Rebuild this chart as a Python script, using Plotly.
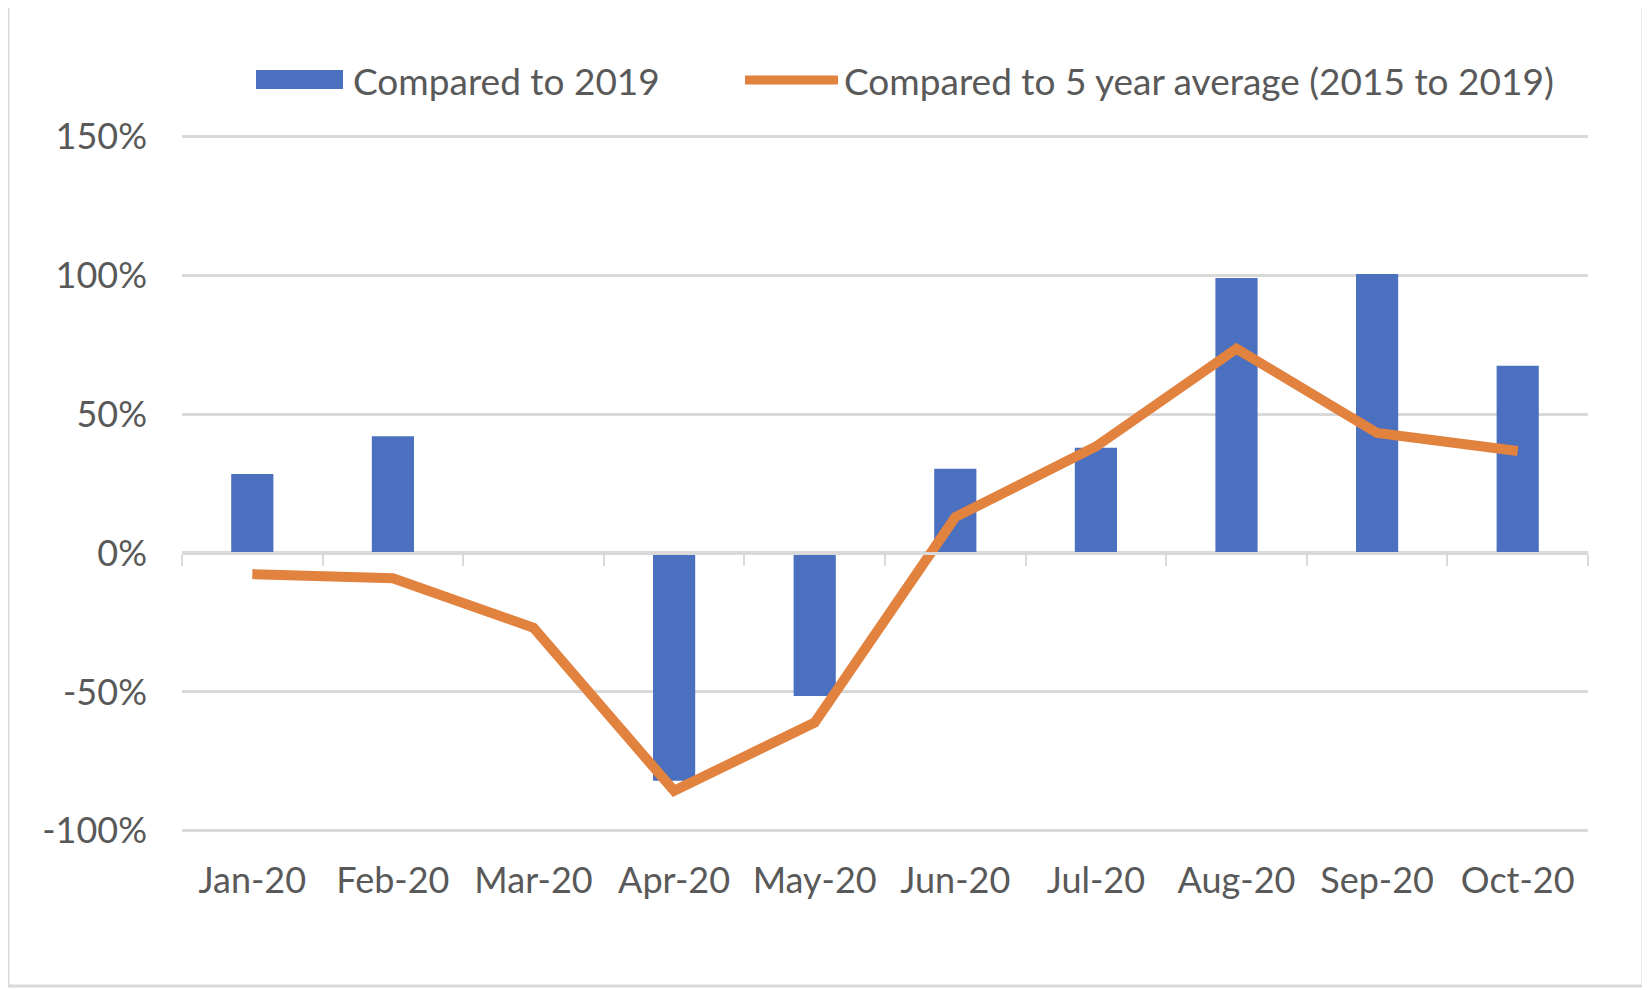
import plotly.graph_objects as go

# ---- data ----
months = ["Jan-20", "Feb-20", "Mar-20", "Apr-20", "May-20",
          "Jun-20", "Jul-20", "Aug-20", "Sep-20", "Oct-20"]
vs_2019 = [0.284, 0.420, 0.0, -0.820, -0.515, 0.303, 0.379, 0.989, 1.004, 0.674]
vs_5yr_avg = [-0.076, -0.091, -0.269, -0.856, -0.610, 0.129, 0.383, 0.735, 0.432, 0.367]
y_tick_vals = [-1.0, -0.5, 0.0, 0.5, 1.0, 1.5]
y_tick_text = ["-100%", "-50%", "0%", "50%", "100%", "150%"]
series_names = ["Compared to 2019", "Compared to 5 year average (2015 to 2019)"]

# ---- style ----
W, H = 1650, 990
OFF = 8  # page body margin offset in the screenshot
L, T = 182 - OFF, 135 - OFF
R = W - (1588 - OFF)
B = H - (832 - OFF)
BLUE = "#4a70bf"
ORANGE = "#e2823f"
GRID = "#d9d9d9"
TEXT = "#595959"
FONT = "Lato, Liberation Sans, Arial, sans-serif"
Y_MIN, Y_MAX = -1.004, 1.504


def px_x(px):
    return (px - OFF - L) / (W - L - R)


def px_y(py):
    return (H - B - (py - OFF)) / (H - T - B)


fig = go.Figure()
fig.add_trace(go.Bar(x=months, y=vs_2019, name=series_names[0],
                     marker=dict(color=BLUE, line=dict(width=0)),
                     showlegend=False))
fig.add_trace(go.Scatter(x=months, y=vs_5yr_avg, name=series_names[1],
                         mode="lines", line=dict(color=ORANGE, width=10),
                         showlegend=False))

# manual legend (large swatches like the original)
shapes = [
    dict(type="rect", xref="paper", yref="paper",
         x0=px_x(256), x1=px_x(343), y0=px_y(89), y1=px_y(70),
         fillcolor=BLUE, line=dict(width=0)),
    dict(type="line", xref="paper", yref="paper",
         x0=px_x(745), x1=px_x(838), y0=px_y(80), y1=px_y(80),
         line=dict(color=ORANGE, width=9)),
    # outer chart border
    dict(type="rect", xref="paper", yref="paper",
         x0=px_x(8), x1=px_x(1643), y0=px_y(986), y1=px_y(6),
         line=dict(color=GRID, width=3), fillcolor="rgba(0,0,0,0)", layer="below"),
]
annotations = [
    dict(text=series_names[0], xref="paper", yref="paper",
         x=px_x(351), y=px_y(80), xanchor="left", yanchor="middle",
         showarrow=False, font=dict(family=FONT, size=37, color=TEXT)),
    dict(text=series_names[1], xref="paper", yref="paper",
         x=px_x(842), y=px_y(80), xanchor="left", yanchor="middle",
         showarrow=False, font=dict(family=FONT, size=37, color=TEXT)),
]

fig.update_layout(
    width=W, height=H,
    margin=dict(l=L, r=R, t=T, b=B, autoexpand=False),
    paper_bgcolor="white", plot_bgcolor="white",
    bargap=0.7,
    font=dict(family=FONT, size=36, color=TEXT),
    shapes=shapes, annotations=annotations,
    xaxis=dict(type="category", categoryorder="array", categoryarray=months,
               range=[-0.5, 9.5], tickson="boundaries", ticks="outside",
               ticklen=11, tickwidth=2, tickcolor=GRID,
               showline=True, linecolor=GRID, linewidth=3,
               anchor="free", position=(0 - Y_MIN) / (Y_MAX - Y_MIN),
               showgrid=False, ticklabelstandoff=295,
               tickfont=dict(family=FONT, size=36, color=TEXT)),
    yaxis=dict(range=[Y_MIN, Y_MAX], tickvals=y_tick_vals, ticktext=y_tick_text,
               showgrid=True, gridcolor=GRID, gridwidth=3, zeroline=False,
               ticks="", showline=False, ticklabelstandoff=34,
               tickfont=dict(family=FONT, size=36, color=TEXT)),
)

fig.write_html("out.html")
